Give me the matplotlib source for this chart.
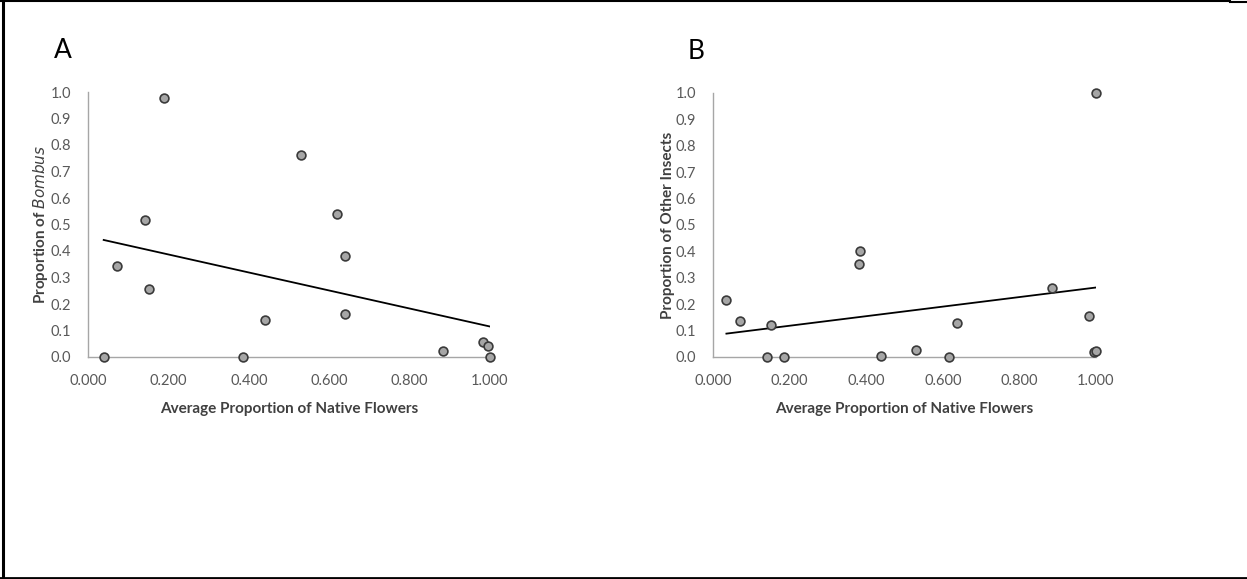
import matplotlib
matplotlib.use("Agg")
import matplotlib.pyplot as plt
from matplotlib.lines import Line2D
import numpy as np

plt.rcParams['font.family'] = ['Lato', 'DejaVu Sans']

# Panel A: proportion of Bombus
native_a = [0.039, 0.071, 0.143, 0.152, 0.189, 0.385, 0.441, 0.530,
            0.619, 0.639, 0.639, 0.884, 0.983, 0.996, 1.000]
bombus = [0.000, 0.345, 0.516, 0.256, 0.977, 0.000, 0.139, 0.764,
          0.541, 0.383, 0.163, 0.021, 0.058, 0.040, 0.000]

# Panel B: proportion of other insects
native_b = [0.035, 0.071, 0.141, 0.151, 0.186, 0.381, 0.383, 0.438,
            0.529, 0.616, 0.638, 0.884, 0.981, 0.995, 1.000, 1.000]
other = [0.215, 0.136, 0.000, 0.121, 0.000, 0.351, 0.400, 0.003,
         0.028, 0.000, 0.129, 0.261, 0.155, 0.019, 0.023, 1.000]

x_ticks = [0.0, 0.2, 0.4, 0.6, 0.8, 1.0]
y_ticks = [0.0, 0.1, 0.2, 0.3, 0.4, 0.5, 0.6, 0.7, 0.8, 0.9, 1.0]

W, H = 1247, 579
fig = plt.figure(figsize=(W / 100, H / 100), dpi=100)


def panel(left, right, top, bottom, x, y, ylabel, letter, ylab_x, let_x):
    ax = fig.add_axes([left / W, 1 - bottom / H, (right - left) / W, (bottom - top) / H])
    ax.set_xlim(0, 1)
    ax.set_ylim(0, 1)
    # linear trend line
    m, c = np.polyfit(x, y, 1)
    xs = np.array([min(x), max(x)])
    ax.plot(xs, m * xs + c, color='black', lw=1.3, zorder=2)
    ax.scatter(x, y, s=40, facecolor='#a6a6a6', edgecolor='#3a3a3a',
               linewidth=1.2, zorder=3, clip_on=False)
    for s in ['top', 'right']:
        ax.spines[s].set_visible(False)
    for s in ['left', 'bottom']:
        ax.spines[s].set_color('#a6a6a6')
        ax.spines[s].set_linewidth(1)
    ax.set_xticks(x_ticks)
    ax.set_xticklabels(['%.3f' % v for v in x_ticks])
    ax.set_yticks(y_ticks)
    ax.set_yticklabels(['%.1f' % v for v in y_ticks])
    ax.tick_params(length=0, labelsize=10.5, colors='#595959')
    ax.tick_params(axis='x', pad=12)
    ax.tick_params(axis='y', pad=12)
    ax.set_xlabel('Average Proportion of Native Flowers', fontsize=11,
                  fontweight='bold', color='#404040')
    ax.xaxis.set_label_coords(0.5, -0.17)
    ax.set_ylabel(ylabel, fontsize=11, fontweight='bold', color='#404040')
    ax.yaxis.set_label_coords(ylab_x, 0.5)
    ax.text(let_x, (357 - 50) / 265, letter, transform=ax.transAxes, fontsize=19,
            color='black', ha='center', va='center')
    return ax


panel(88, 490, 92, 357, native_a, bombus,
      r'Proportion of $\mathbf{\it{Bombus}}$', 'A', -0.095, -0.062)
panel(713, 1096, 93, 357, native_b, other,
      'Proportion of Other Insects', 'B', -0.1, -0.044)

# frame lines around the figure
fig.add_artist(Line2D([2.5 / W, 2.5 / W], [0, 1], color='black', lw=2.2))
fig.add_artist(Line2D([0, 1230 / W], [1 - 0.5 / H, 1 - 0.5 / H], color='black', lw=1.5))
fig.add_artist(Line2D([1230 / W, 1], [1 - 2 / H, 1 - 2 / H], color='black', lw=1.5))
fig.add_artist(Line2D([0, 1], [1 - 577.5 / H, 1 - 577.5 / H], color='black', lw=2))

fig.savefig('out.png', dpi=100)
